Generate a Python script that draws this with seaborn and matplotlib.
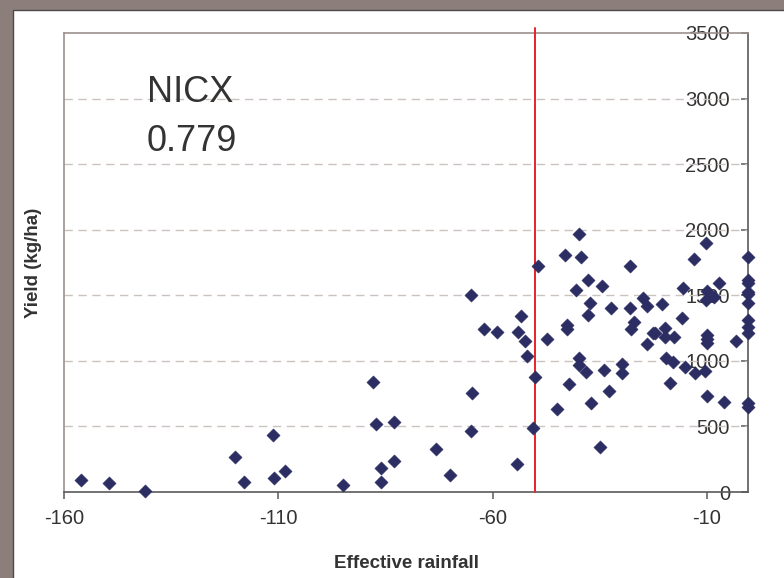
import matplotlib
matplotlib.use('Agg')
import matplotlib.pyplot as plt
from matplotlib.patches import Rectangle
import pandas as pd
import seaborn as sns

# Valores
chuva = [-156, -149.5, -141, -120, -118, -111.3, -111, -108.5, -95, -88,
         -87.2, -83, -86, -83, -86, -73.3, -70, -65, -62, -59,
         -53.3, -54, -52.5, -52, -49.3, -47.2, -50, -64.7, -65, -50.5,
         -54.2, -45, -39.8, -43, -39.4, -28, -37.8, -40.6, -34.5, -37.3,
         -37.8, -32.4, -27.9, -24.8, -23.9, -20.5, -42.7, -42.7, -27.1, -27.7,
         -22.6, -22, -24, -39.8, -39.8, -38.1, -34.1, -29.9, -29.9, -42.2,
         -32.9, -37, -35, -19.8, -19.8, -17.7, -19.6, -18, -18.5, -15.8,
         -15.6, -15, -12.9, -10.3, -10.1, -9.9, -8.4, -7.2, -12.7, -10.5,
         -9.9, -9.9, -9.9, -9.9, -5.9, -3.1,
         -0.4, -0.4, -0.4, -0.4, -0.4, -0.4, -0.4, -0.4, -0.4, -0.4, -0.4]
produtividade = [90, 65, 10, 265, 75, 435, 105, 160, 50, 835,
                 515, 530, 185, 240, 80, 330, 130, 1500, 1245, 1220,
                 1340, 1220, 1155, 1035, 1725, 1170, 875, 755, 465, 490,
                 210, 635, 1965, 1805, 1790, 1725, 1620, 1540, 1570, 1440,
                 1350, 1405, 1405, 1480, 1420, 1435, 1275, 1245, 1295, 1245,
                 1210, 1210, 1130, 1025, 965, 915, 930, 975, 910, 825,
                 770, 675, 340, 1250, 1180, 1185, 1020, 995, 830, 1330,
                 1555, 955, 1780, 1900, 1465, 1535, 1490, 1590, 905, 925,
                 1195, 1165, 1135, 730, 690, 1155,
                 1795, 1620, 1590, 1525, 1510, 1440, 1310, 1255, 1210, 680, 645]

linha_x = [-50, -50]
linha_y = [0, 3540]

xticks = [-160, -110, -60, -10]
yticks = [0, 500, 1000, 1500, 2000, 2500, 3000, 3500]

dados = pd.DataFrame({'chuva': chuva, 'produtividade': produtividade})

sns.set_style('white')
plt.rcParams['font.family'] = ['Liberation Sans', 'DejaVu Sans']
plt.rcParams['axes.unicode_minus'] = False

fig = plt.figure(figsize=(7.84, 5.78), dpi=100)
fig.patch.set_facecolor('#8c7f7b')
fig.patches.append(Rectangle((13 / 784, -0.01), 1.0, (578 - 10) / 578 + 0.01,
                             transform=fig.transFigure, facecolor='white',
                             edgecolor='#4a4a4a', linewidth=1.0, zorder=-10))

ax = fig.add_axes([64 / 784, (578 - 492) / 578, (748 - 64) / 784, (492 - 33) / 578])
ax.set_facecolor('white')

sns.scatterplot(x='chuva', y='produtividade', data=dados, ax=ax, marker='D',
                s=46, color='#2c2e63', edgecolor='#2c2e63', linewidth=0.3,
                clip_on=False, zorder=4)
ax.plot(linha_x, linha_y, color='#e8232b', linewidth=1.4, clip_on=False, zorder=3)

ax.set_xlim(-160, -0.4)
ax.set_ylim(0, 3500)
ax.set_xticks(xticks)
ax.set_yticks(yticks)

for y in yticks[1:-1]:
    ax.axhline(y, color='#cbc3c0', linewidth=1.0, dashes=(6, 4), zorder=1)

for lado in ['top', 'left']:
    ax.spines[lado].set_color('#9c918d')
    ax.spines[lado].set_linewidth(1.2)
for lado in ['bottom', 'right']:
    ax.spines[lado].set_color('#5a5a5a')
    ax.spines[lado].set_linewidth(1.2)

ax.tick_params(axis='x', direction='out', length=5, width=1.1, color='#5a5a5a',
               labelsize=14.5, labelcolor='#333333', pad=7, bottom=True)
ax.tick_params(axis='y', left=False, labelleft=False, right=True, labelright=True,
               direction='in', length=5, width=1.1, color='#5a5a5a',
               labelsize=14.5, labelcolor='#333333', pad=-13)
for rotulo in ax.get_yticklabels():
    rotulo.set_horizontalalignment('right')

ax.set_xlabel('Effective rainfall', fontsize=13.5, fontweight='bold',
              color='#333333', labelpad=20)
ax.set_ylabel('Yield (kg/ha)', fontsize=13.5, fontweight='bold',
              color='#333333', labelpad=16)

ax.text(0.121, 0.85, 'NICX', transform=ax.transAxes, fontsize=26,
        color='#333333', va='baseline', ha='left')
ax.text(0.121, 0.742, '0.779', transform=ax.transAxes, fontsize=26,
        color='#333333', va='baseline', ha='left')

fig.savefig('out.png', dpi=100, facecolor=fig.get_facecolor())
